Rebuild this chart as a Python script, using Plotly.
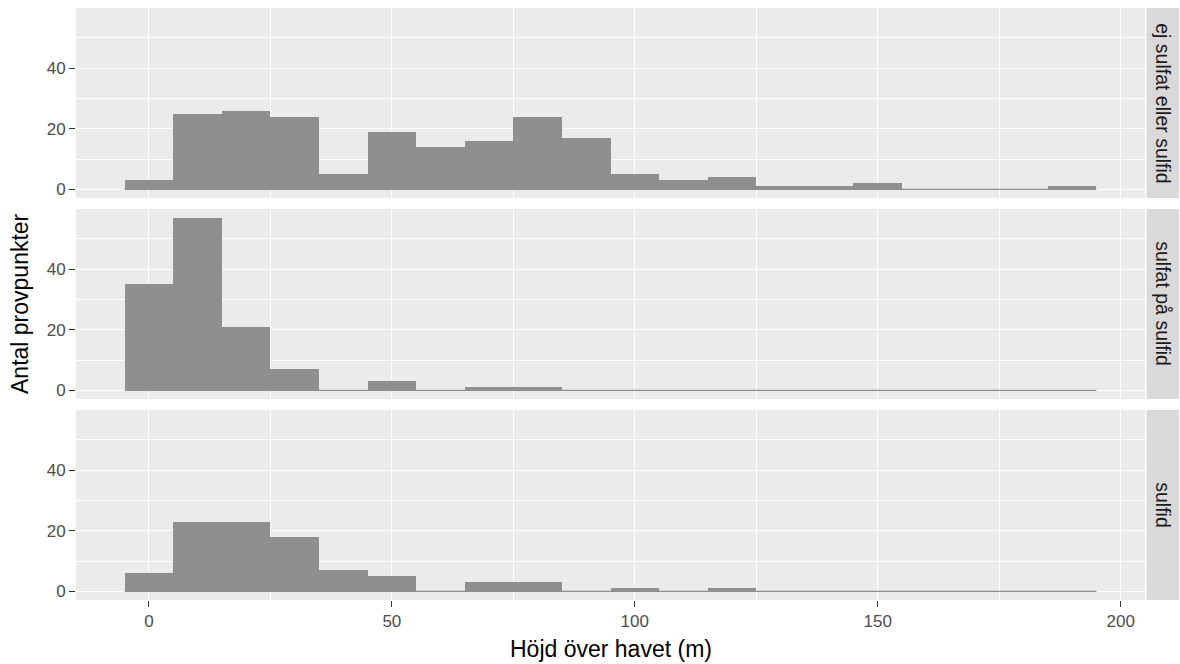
import plotly.graph_objects as go
from plotly.subplots import make_subplots

# Histogram bins (width 10 m, centred on multiples of 10)
bin_width = 10
bin_centers = [0, 10, 20, 30, 40, 50, 60, 70, 80, 90,
               100, 110, 120, 130, 140, 150, 160, 170, 180, 190]

facet_labels = ["ej sulfat eller sulfid", "sulfat på sulfid", "sulfid"]

counts_ej_sulfat_eller_sulfid = [3, 25, 26, 24, 5, 19, 14, 16, 24, 17,
                                 5, 3, 4, 1, 1, 2, 0, 0, 0, 1]
counts_sulfat_pa_sulfid = [35, 57, 21, 7, 0, 3, 0, 1, 1, 0,
                           0, 0, 0, 0, 0, 0, 0, 0, 0, 0]
counts_sulfid = [6, 23, 23, 18, 7, 5, 0, 3, 3, 0,
                 1, 0, 1, 0, 0, 0, 0, 0, 0, 0]

x_tick_values = [0, 50, 100, 150, 200]
y_tick_values = [0, 20, 40]

x_title = "Höjd över havet (m)"
y_title = "Antal provpunkter"

# ---- styling -------------------------------------------------------------
FONT = "Liberation Sans, Arial, sans-serif"
BAR_COLOR = "#8f8f8f"
PANEL_BG = "#ebebeb"
STRIP_BG = "#d9d9d9"
TICK_TEXT = "#4d4d4d"
TICK_COLOR = "#333333"

FIG_W, FIG_H = 1180, 664
PANEL_LEFT, PANEL_RIGHT = 76, 1145
PANEL_TOPS = [8, 209, 410]
PANEL_H = 190
PLOT_TOP = PANEL_TOPS[0]
PLOT_BOTTOM = PANEL_TOPS[-1] + PANEL_H
PLOT_W = PANEL_RIGHT - PANEL_LEFT
PLOT_H = PLOT_BOTTOM - PLOT_TOP


def py(pixel_y):
    return (PLOT_BOTTOM - pixel_y) / PLOT_H


def px(pixel_x):
    return (pixel_x - PANEL_LEFT) / PLOT_W


all_counts = [counts_ej_sulfat_eller_sulfid, counts_sulfat_pa_sulfid, counts_sulfid]

# ggplot-like 5% expansion of the scales
edges_lo = bin_centers[0] - bin_width / 2
edges_hi = bin_centers[-1] + bin_width / 2
x_pad = 0.05 * (edges_hi - edges_lo)
x_range = [edges_lo - x_pad, edges_hi + x_pad]
y_max = max(max(c) for c in all_counts)
y_range = [-0.05 * y_max, 1.05 * y_max]

fig = make_subplots(rows=3, cols=1, shared_xaxes=True)

for row, counts in enumerate(all_counts, start=1):
    # empty bins show up as a hairline along zero
    fig.add_trace(go.Scatter(
        x=[edges_lo, edges_hi], y=[0, 0], mode="lines",
        line=dict(color=BAR_COLOR, width=1.3),
        hoverinfo="skip", showlegend=False,
    ), row=row, col=1)
    fig.add_trace(go.Bar(
        x=bin_centers, y=counts, width=bin_width,
        marker=dict(color=BAR_COLOR, line=dict(width=0)),
        showlegend=False,
    ), row=row, col=1)

axis_common = dict(
    showline=False, zeroline=False,
    gridcolor="white", gridwidth=1.3,
)

for row, top in enumerate(PANEL_TOPS, start=1):
    suffix = "" if row == 1 else str(row)
    domain = [py(top + PANEL_H), py(top)]
    fig.layout["yaxis" + suffix].update(
        domain=domain, range=y_range, tickvals=y_tick_values,
        ticks="outside", ticklen=6, tickwidth=1.1, tickcolor=TICK_COLOR,
        tickfont=dict(family=FONT, size=17, color=TICK_TEXT),
        minor=dict(dtick=10, tick0=0, showgrid=True, gridcolor="white",
                   gridwidth=0.7, ticks=""),
        **axis_common,
    )
    bottom_row = row == len(PANEL_TOPS)
    fig.layout["xaxis" + suffix].update(
        domain=[0, 1], range=x_range, tickvals=x_tick_values,
        showticklabels=bottom_row,
        ticks="outside" if bottom_row else "",
        ticklen=6, tickwidth=1.1, tickcolor=TICK_COLOR,
        tickfont=dict(family=FONT, size=17, color=TICK_TEXT),
        minor=dict(dtick=25, tick0=0, showgrid=True, gridcolor="white",
                   gridwidth=0.7, ticks=""),
        **axis_common,
    )

    # facet strip on the right
    fig.add_shape(
        type="rect", xref="paper", yref="paper",
        x0=px(PANEL_RIGHT + 1.5), x1=px(1179),
        y0=domain[0], y1=domain[1],
        fillcolor=STRIP_BG, line=dict(width=0), layer="below",
    )
    fig.add_annotation(
        xref="paper", yref="paper",
        x=px((PANEL_RIGHT + 1.5 + 1179) / 2), y=(domain[0] + domain[1]) / 2,
        text=facet_labels[row - 1], textangle=90, showarrow=False,
        font=dict(family=FONT, size=19.5, color="#1a1a1a"),
        xanchor="center", yanchor="middle",
    )

fig.add_annotation(
    xref="paper", yref="paper", x=0.5, y=py(649),
    text=x_title, showarrow=False,
    font=dict(family=FONT, size=23, color="black"),
    xanchor="center", yanchor="middle",
)
fig.add_annotation(
    xref="paper", yref="paper", x=px(20), y=0.5,
    text=y_title, textangle=-90, showarrow=False,
    font=dict(family=FONT, size=23, color="black"),
    xanchor="center", yanchor="middle",
)

fig.update_layout(
    width=FIG_W, height=FIG_H,
    margin=dict(l=PANEL_LEFT, r=FIG_W - PANEL_RIGHT, t=PLOT_TOP, b=FIG_H - PLOT_BOTTOM),
    paper_bgcolor="white", plot_bgcolor=PANEL_BG,
    bargap=0, barmode="overlay",
    font=dict(family=FONT),
    showlegend=False,
)

fig.write_html("out.html")
